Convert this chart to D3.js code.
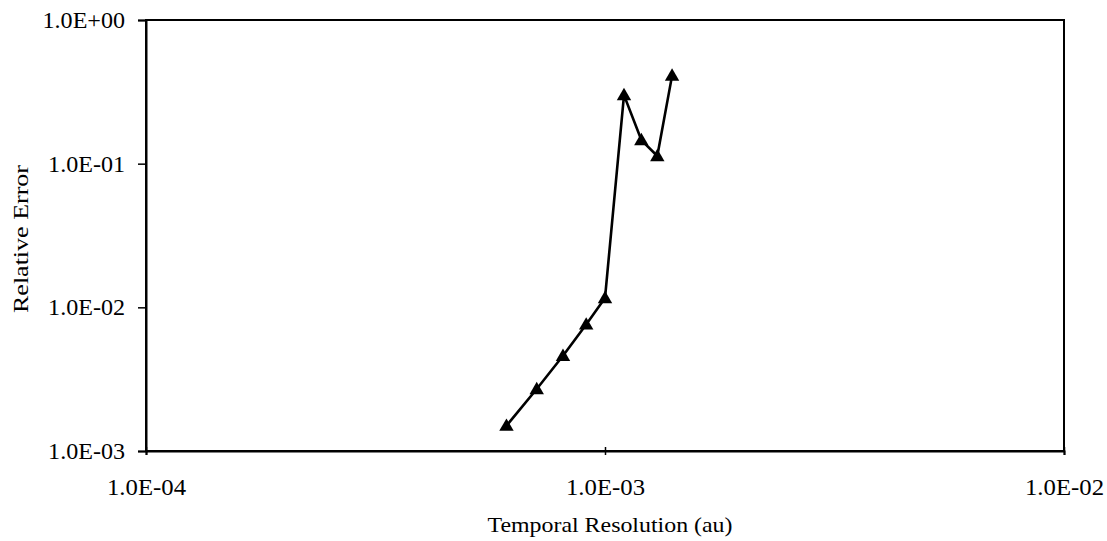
<!DOCTYPE html>
<html>
<head>
<meta charset="utf-8">
<script src="https://cdn.jsdelivr.net/npm/d3@7"></script>
<style>
  html, body { margin: 0; padding: 0; background: #fff; }
  svg { display: block; }
  text { font-family: "Liberation Serif", "Times New Roman", serif; fill: #000; }
</style>
</head>
<body>
<svg id="chart" width="1107" height="541"></svg>
<script>
// Data
const resolution = [6.1e-4, 7.1e-4, 8.1e-4, 9.1e-4, 1e-3, 1.1e-3, 1.2e-3, 1.3e-3, 1.4e-3];
const relError   = [1.5e-3, 2.7e-3, 4.6e-3, 7.6e-3, 1.16e-2, 0.30, 0.146, 0.113, 0.41];
const xTicks = [1e-4, 1e-3, 1e-2];
const xTickLabels = ["1.0E-04", "1.0E-03", "1.0E-02"];
const yTicks = [1e-3, 1e-2, 1e-1, 1];
const yTickLabels = ["1.0E-03", "1.0E-02", "1.0E-01", "1.0E+00"];
const xTitle = "Temporal Resolution (au)";
const yTitle = "Relative Error";

const L = 146, R = 1064, T = 20, B = 451;
const svg = d3.select("#chart");

const x = d3.scaleLog().domain([1e-4, 1e-2]).range([L, R]);
const y = d3.scaleLog().domain([1e-3, 1]).range([B, T]);

function stretch(sel, k) {
  sel.each(function() {
    const w = this.getComputedTextLength();
    d3.select(this).attr("textLength", w * k).attr("lengthAdjust", "spacingAndGlyphs");
  });
}

// Frame
svg.append("rect").attr("x", L).attr("y", T).attr("width", R - L).attr("height", B - T)
  .attr("fill", "none").attr("stroke", "#000").attr("stroke-width", 2);

// Y axis
const yAxis = d3.axisLeft(y).tickValues(yTicks).tickSize(8)
  .tickFormat((d, i) => yTickLabels[i]);
const yg = svg.append("g").attr("transform", `translate(${L},0)`).call(yAxis);
yg.select(".domain").attr("stroke", "#000").attr("stroke-width", 2);
yg.selectAll(".tick line").attr("stroke", "#000").attr("stroke-width", 1.5);
yg.selectAll(".tick text").attr("x", -21).attr("dy", "0.33em")
  .style("font-size", "22.5px").style("font-family", "'Liberation Serif', serif");
stretch(yg.selectAll(".tick text"), 1.07);

// X axis
const xAxis = d3.axisBottom(x).tickValues(xTicks).tickSize(4)
  .tickFormat((d, i) => xTickLabels[i]);
const xg = svg.append("g").attr("transform", `translate(0,${B})`).call(xAxis);
xg.select(".domain").attr("stroke", "#000").attr("stroke-width", 2);
xg.selectAll(".tick line").attr("stroke", "#000").attr("stroke-width", 1.5).attr("y1", -4);
xg.selectAll(".tick text").attr("y", 44).attr("dy", null)
  .style("font-size", "22.5px").style("font-family", "'Liberation Serif', serif");
stretch(xg.selectAll(".tick text"), 1.1);

// Series line
const pts = resolution.map((r, i) => [r, relError[i]]);
svg.append("path").datum(pts)
  .attr("fill", "none").attr("stroke", "#000").attr("stroke-width", 2.6)
  .attr("stroke-linejoin", "round")
  .attr("d", d3.line().x(d => x(d[0])).y(d => y(d[1])));

// Triangle markers
const tri = d3.symbol().type(d3.symbolTriangle).size(90);
svg.append("g").selectAll("path").data(pts).join("path")
  .attr("d", tri)
  .attr("transform", d => `translate(${x(d[0])},${y(d[1]) + 1})`)
  .attr("fill", "#000");

// Axis titles
const xt = svg.append("text").attr("x", 610).attr("y", 532)
  .attr("text-anchor", "middle").style("font-size", "21px").text(xTitle);
xt.attr("textLength", 245).attr("lengthAdjust", "spacingAndGlyphs");

const yt = svg.append("text").attr("transform", "translate(28,239) rotate(-90)")
  .attr("text-anchor", "middle").style("font-size", "22px").text(yTitle);
yt.attr("textLength", 148).attr("lengthAdjust", "spacingAndGlyphs");
</script>
</body>
</html>
